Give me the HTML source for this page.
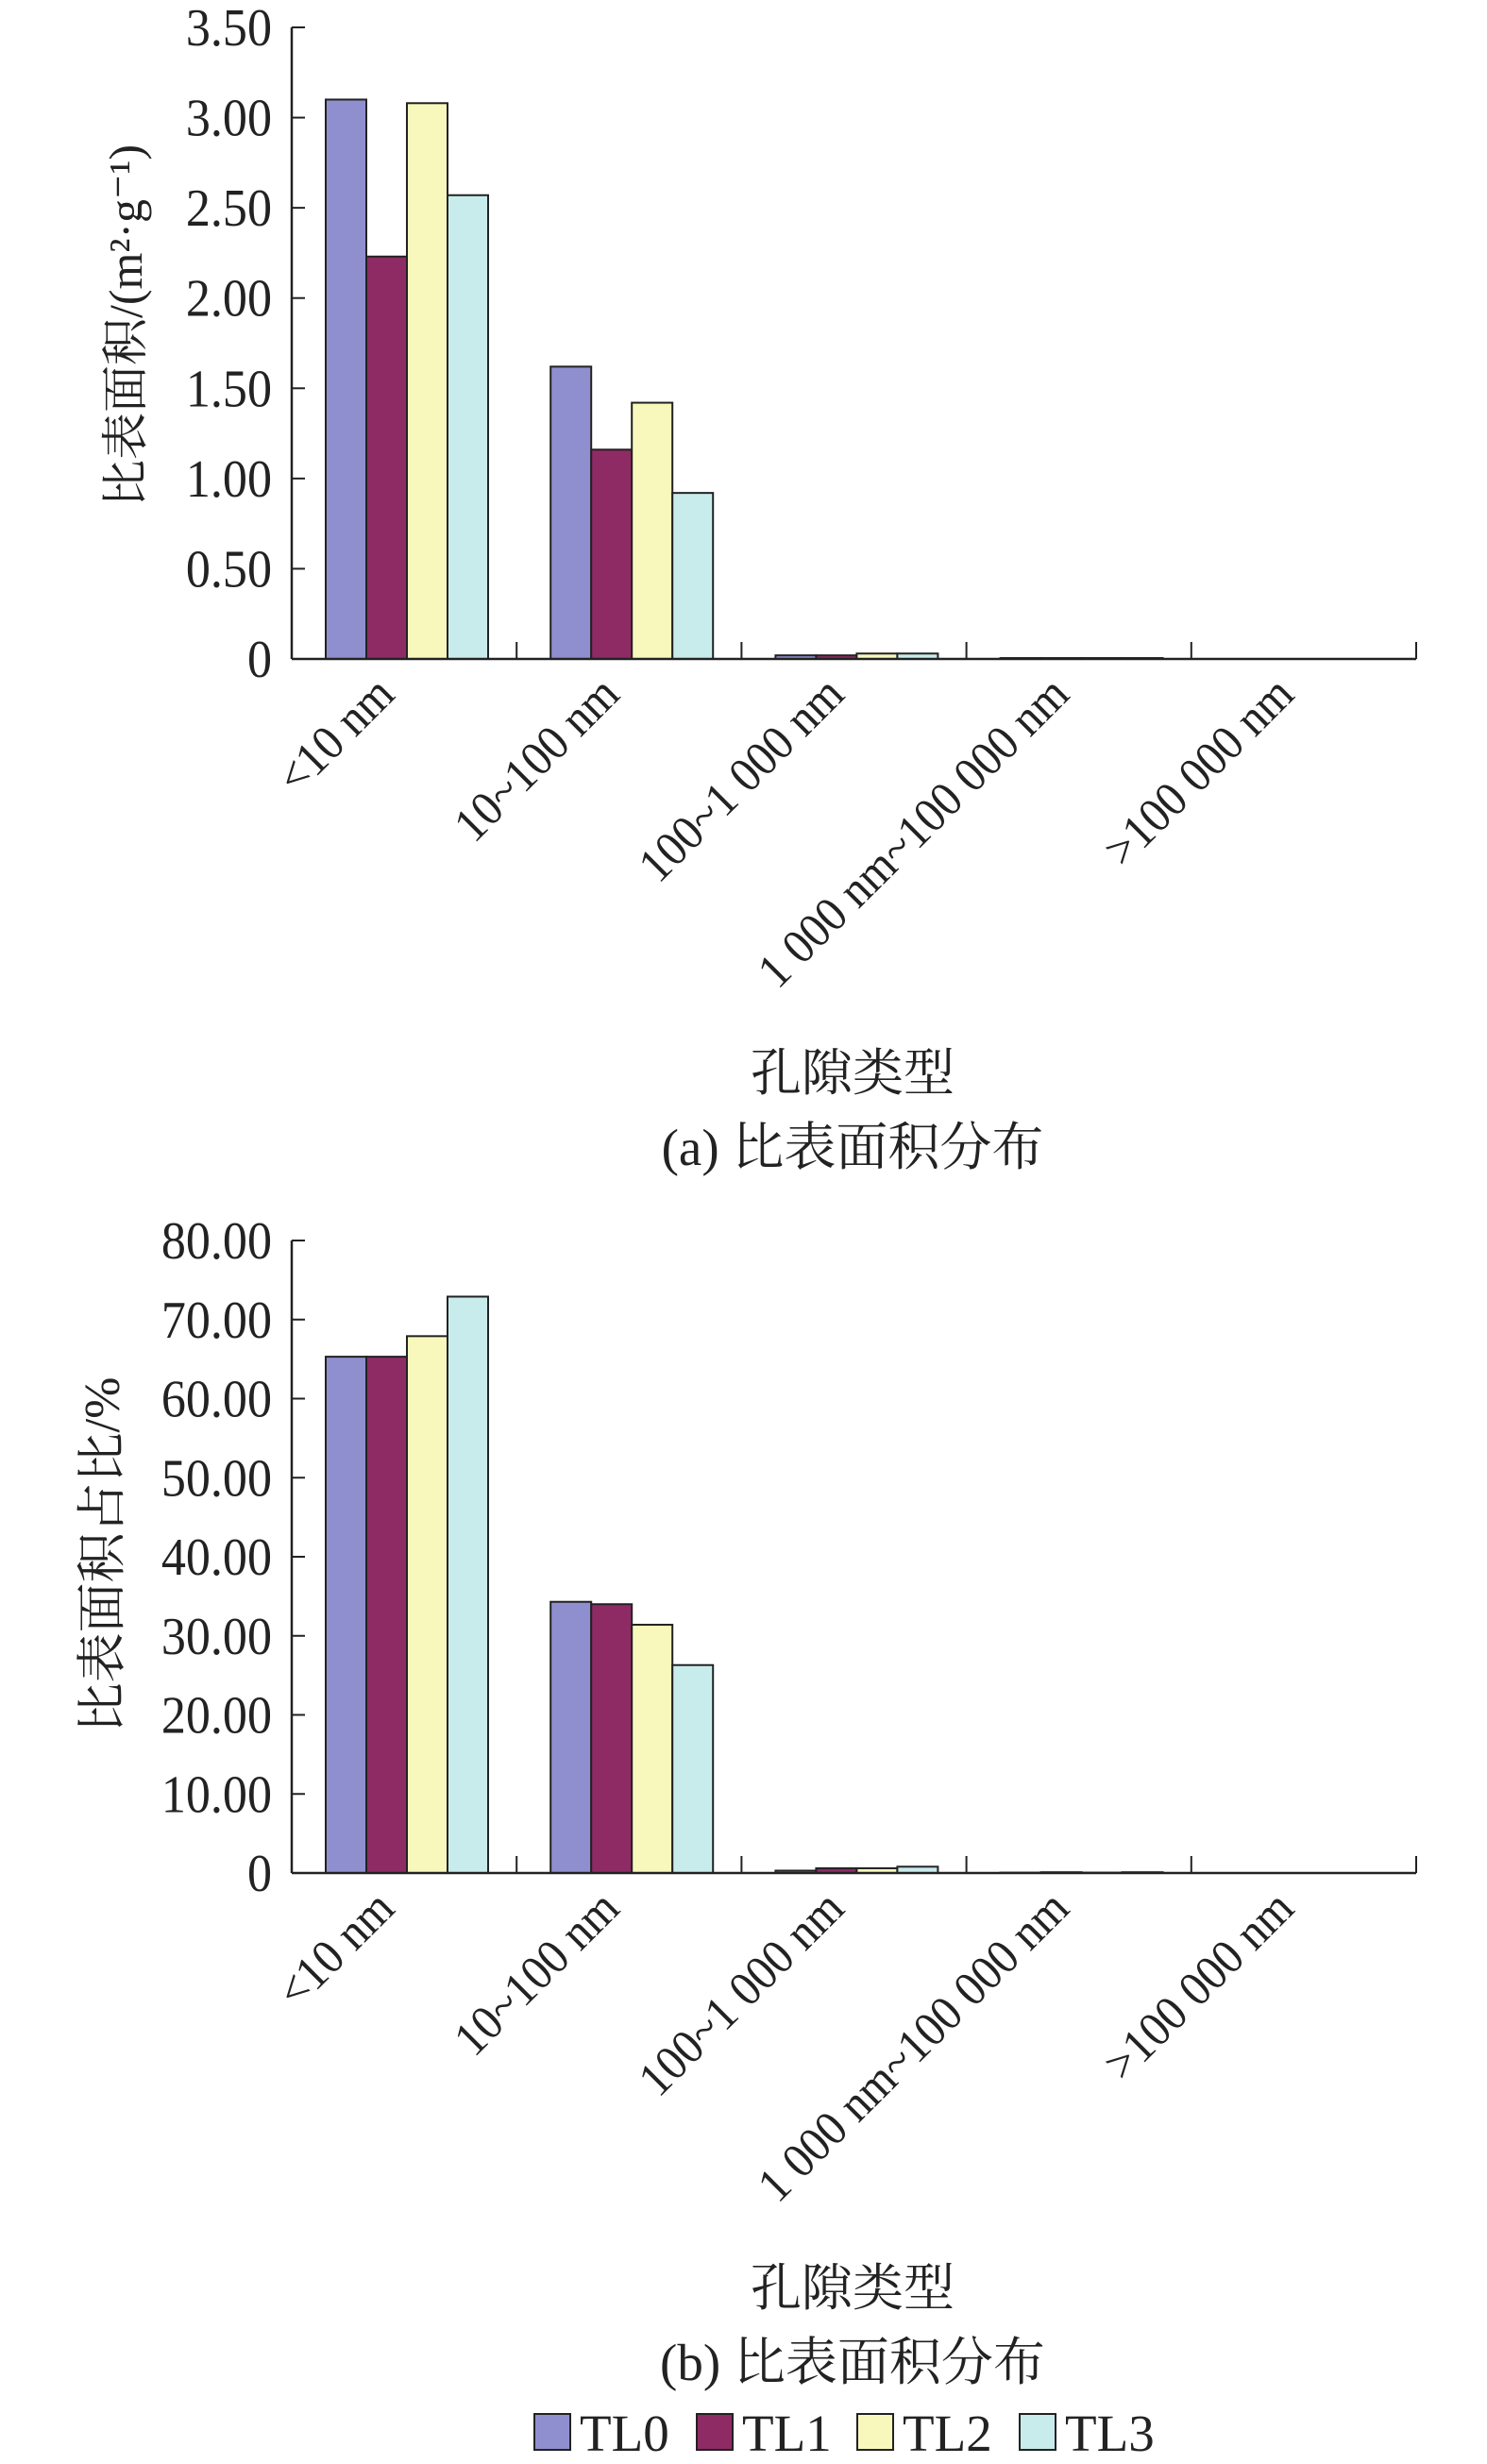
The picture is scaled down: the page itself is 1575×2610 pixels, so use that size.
<!DOCTYPE html>
<html><head><meta charset="utf-8"><style>
html,body{margin:0;padding:0;background:#fff;}
svg{display:block;font-family:"Liberation Serif","Noto Serif CJK SC","Noto Sans CJK SC",serif;}
</style></head><body>
<svg id="s" width="1575" height="2610" viewBox="0 0 1575 2610" xmlns="http://www.w3.org/2000/svg"></svg>
<script>
const categories = ["<10 nm","10~100 nm","100~1 000 nm","1 000 nm~100 000 nm",">100 000 nm"];
const seriesNames = ["TL0","TL1","TL2","TL3"];
const areaTL0 = [3.10,1.62,0.02,0.005,0];
const areaTL1 = [2.23,1.16,0.02,0.005,0];
const areaTL2 = [3.08,1.42,0.03,0.005,0];
const areaTL3 = [2.57,0.92,0.03,0.005,0];
const pctTL0 = [65.3,34.3,0.3,0.05,0];
const pctTL1 = [65.3,34.0,0.6,0.1,0];
const pctTL2 = [67.9,31.4,0.6,0.05,0];
const pctTL3 = [72.9,26.3,0.8,0.1,0];
const areaTicks = ["0","0.50","1.00","1.50","2.00","2.50","3.00","3.50"];
const pctTicks = ["0","10.00","20.00","30.00","40.00","50.00","60.00","70.00","80.00"];
const colors = ["#8f8fcf","#8e2b64","#f8f8bc","#c8ecec"];

const NS="http://www.w3.org/2000/svg";
const svg=document.getElementById('s');
function el(tag,attrs,parent,text){const e=document.createElementNS(NS,tag);for(const k in attrs)e.setAttribute(k,attrs[k]);if(text!==undefined)e.textContent=text;(parent||svg).appendChild(e);return e;}

function chart(o){
  const g=el('g',{});
  
  
  const x0=309,x1=1500,top=o.top,bot=o.bot,max=o.max;
  const ys=v=>bot-(v/max)*(bot-top);
  const bw=(x1-x0)/categories.length;
  o.series.forEach((arr,si)=>{
    arr.forEach((v,ci)=>{
      const x=x0+ci*bw+36+si*43;
      const y=ys(v);
      const r=el('rect',{x:x,y:y,width:43,height:Math.max(bot-y,0),fill:colors[si],stroke:'#222','stroke-width':2},g);
      
      
    });
  });
  const ya=el('line',{x1:x0,y1:top,x2:x0,y2:bot,stroke:'#222','stroke-width':2.5},g);
  
  const xa=el('line',{x1:x0,y1:bot,x2:x1,y2:bot,stroke:'#222','stroke-width':2.5},g);
  
  o.ticks.forEach((t,i)=>{
    const v=i*o.step, y=ys(v);
    el('line',{x1:x0,y1:y,x2:x0+14,y2:y,stroke:'#222','stroke-width':2},g);
    const tx=el('text',{x:0,y:0,'text-anchor':'end','font-size':56,fill:'#222',transform:`translate(288 ${y+19}) scale(0.93 1)`},g,t);
    
  });
  for(let i=0;i<=categories.length;i++){
    const x=x0+i*bw;
    el('line',{x1:x,y1:bot,x2:x,y2:bot-18,stroke:'#222','stroke-width':2},g);
  }
  categories.forEach((c,i)=>{
    const cx=x0+i*bw+bw/2-8, cy=bot+40;
    const t=el('text',{x:0,y:0,'text-anchor':'end','font-size':52,fill:'#222',transform:`translate(${cx} ${cy}) rotate(-45) scale(0.93 1)`},g,c);
    
  });
  const yt=el('text',{x:0,y:0,'text-anchor':'middle','font-size':o.ytfs,fill:'#222',transform:`translate(${o.ytx} ${o.yty}) rotate(-90)`},g,o.ytitle);
  
  const xt=el('text',{x:903,y:o.xty,'text-anchor':'middle','font-size':54,fill:'#222'},g,'孔隙类型');
  
  const ct=el('text',{x:903,y:o.cty,'text-anchor':'middle','font-size':55,fill:'#222'},g,o.caption);
  
}
chart({name:'chart-a',top:29,bot:698,max:3.5,step:0.5,ticks:areaTicks,series:[areaTL0,areaTL1,areaTL2,areaTL3],ytitle:'比表面积/(m²·g⁻¹)',ytfs:50,ytx:150,yty:345,xty:1155,cty:1234,caption:'(a) 比表面积分布'});
chart({name:'chart-b',top:1314,bot:1984,max:80,step:10,ticks:pctTicks,series:[pctTL0,pctTL1,pctTL2,pctTL3],ytitle:'比表面积占比/%',ytfs:53,ytx:126,yty:1647,xty:2442,cty:2521,caption:'(b) 比表面积分布'});

const lg=el('g',{});


const lx=[566,738,908,1080];
seriesNames.forEach((n,i)=>{
  const it=el('g',{},lg);
  
  
  el('rect',{x:lx[i],y:2557,width:38,height:38,fill:colors[i],stroke:'#222','stroke-width':2},it);
  el('text',{x:lx[i]+48,y:2596,'font-size':55,fill:'#222'},it,n);
});
</script>
</body></html>
